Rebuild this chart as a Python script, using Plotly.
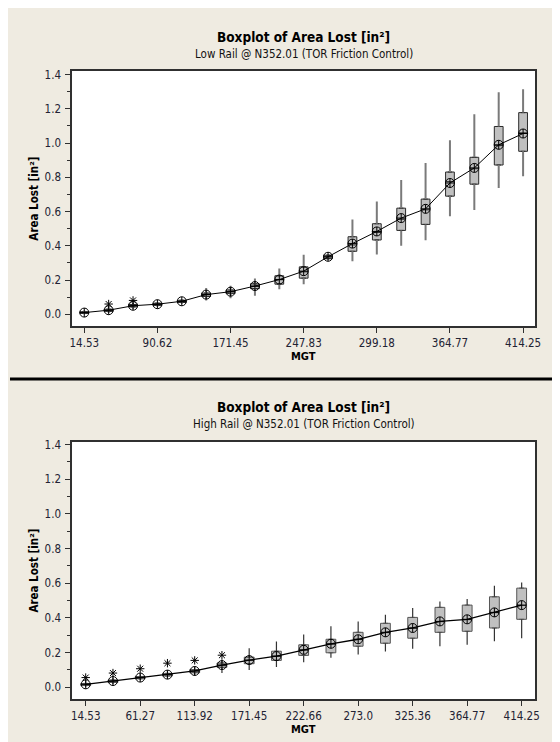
import plotly.graph_objects as go

# ---------------- data ----------------
top_mgt = ["14.53", "38.20", "61.27", "90.62", "113.92", "142.10", "171.45", "197.30",
           "222.66", "247.83", "273.0", "285.90", "299.18", "325.36", "345.10", "364.77",
           "381.20", "397.60", "414.25"]
top_ticks = ["14.53", "90.62", "171.45", "247.83", "299.18", "364.77", "414.25"]
top_q1 = [0.005, 0.017, 0.043, 0.052, 0.069, 0.104, 0.121, 0.150, 0.176, 0.211, 0.325,
          0.368, 0.434, 0.490, 0.525, 0.690, 0.760, 0.872, 0.952]
top_median = [0.010, 0.023, 0.050, 0.058, 0.075, 0.114, 0.131, 0.163, 0.202, 0.248, 0.335,
              0.405, 0.478, 0.555, 0.610, 0.775, 0.850, 0.985, 1.060]
top_q3 = [0.015, 0.030, 0.057, 0.065, 0.082, 0.124, 0.142, 0.178, 0.225, 0.277, 0.345,
          0.453, 0.529, 0.620, 0.673, 0.831, 0.917, 1.097, 1.178]
top_low = [0.000, 0.008, 0.033, 0.044, 0.062, 0.080, 0.093, 0.109, 0.147, 0.176, 0.318,
           0.310, 0.350, 0.400, 0.432, 0.572, 0.609, 0.737, 0.806]
top_high = [0.022, 0.040, 0.066, 0.072, 0.090, 0.153, 0.167, 0.209, 0.267, 0.348, 0.352,
            0.554, 0.659, 0.785, 0.884, 1.017, 1.169, 1.297, 1.314]
top_mean = [0.010, 0.024, 0.050, 0.059, 0.076, 0.115, 0.132, 0.165, 0.203, 0.252, 0.336,
            0.413, 0.484, 0.562, 0.616, 0.767, 0.855, 0.990, 1.056]
top_out_x = ["38.20", "61.27"]
top_out_y = [0.060, 0.081]

bot_mgt = ["14.53", "38.20", "61.27", "90.62", "113.92", "142.10", "171.45", "197.30",
           "222.66", "247.83", "273.0", "299.18", "325.36", "345.10", "364.77", "390.00",
           "414.25"]
bot_ticks = ["14.53", "61.27", "113.92", "171.45", "222.66", "273.0", "325.36", "364.77", "414.25"]
bot_q1 = [0.010, 0.028, 0.049, 0.065, 0.084, 0.115, 0.136, 0.155, 0.184, 0.199, 0.237,
          0.254, 0.283, 0.317, 0.323, 0.342, 0.392]
bot_median = [0.016, 0.035, 0.055, 0.072, 0.093, 0.127, 0.155, 0.178, 0.214, 0.248, 0.275,
              0.315, 0.340, 0.378, 0.390, 0.430, 0.472]
bot_q3 = [0.022, 0.042, 0.062, 0.080, 0.102, 0.140, 0.174, 0.208, 0.245, 0.277, 0.317,
          0.369, 0.403, 0.461, 0.474, 0.522, 0.572]
bot_low = [0.003, 0.018, 0.040, 0.055, 0.068, 0.082, 0.100, 0.117, 0.145, 0.170, 0.189,
           0.207, 0.222, 0.237, 0.245, 0.266, 0.283]
bot_high = [0.032, 0.055, 0.075, 0.093, 0.118, 0.160, 0.225, 0.264, 0.304, 0.352, 0.379,
            0.419, 0.457, 0.495, 0.509, 0.585, 0.604]
bot_mean = [0.017, 0.036, 0.056, 0.073, 0.094, 0.128, 0.157, 0.180, 0.216, 0.251, 0.277,
            0.317, 0.342, 0.380, 0.392, 0.432, 0.474]
bot_out_x = ["14.53", "38.20", "61.27", "90.62", "113.92", "142.10"]
bot_out_y = [0.056, 0.082, 0.107, 0.139, 0.155, 0.185]

title_main = "Boxplot of Area Lost [in²]"
sub_top = "Low Rail @ N352.01 (TOR Friction Control)"
sub_bot = "High Rail @ N352.01 (TOR Friction Control)"
ytitle = "Area Lost [in²]"
xtitle = "MGT"

# ---------------- styling ----------------
# the page body keeps its default 8px margin (white strip), so the figure is 8px smaller
OFF = 8
W, H = 560 - OFF, 742 - OFF
FONT = "DejaVu Sans Condensed, DejaVu Sans, sans-serif"
BEIGE = "#EFEBE1"
BOXFILL = "#C0C0C0"


def px_x(p):
    return (p - OFF) / W


def px_y(p):
    return 1 - (p - OFF) / H


fig = go.Figure()


def add_panel(xa, ya, cats, q1, med, q3, lo, hi, mean, ox, oy, wcol, wwid, bcol, lwid):
    xs = "x" if xa == 1 else "x%d" % xa
    ys = "y" if ya == 1 else "y%d" % ya
    up = [h - q for h, q in zip(hi, q3)]
    dn = [q - l for q, l in zip(q1, lo)]
    fig.add_trace(go.Box(
        x=cats, q1=q1, median=med, q3=q3, lowerfence=q1, upperfence=q3,
        width=0.36, fillcolor=BOXFILL, line=dict(color=bcol, width=1),
        boxpoints=False, xaxis=xs, yaxis=ys, showlegend=False, hoverinfo="skip"))
    fig.add_trace(go.Scatter(
        x=cats, y=q3, mode="markers", marker=dict(size=1, color="rgba(0,0,0,0)"),
        error_y=dict(type="data", symmetric=False, array=up, arrayminus=[0] * len(up),
                     width=0, thickness=wwid, color=wcol),
        xaxis=xs, yaxis=ys, showlegend=False, hoverinfo="skip"))
    fig.add_trace(go.Scatter(
        x=cats, y=q1, mode="markers", marker=dict(size=1, color="rgba(0,0,0,0)"),
        error_y=dict(type="data", symmetric=False, array=[0] * len(dn), arrayminus=dn,
                     width=0, thickness=wwid, color=wcol),
        xaxis=xs, yaxis=ys, showlegend=False, hoverinfo="skip"))
    fig.add_trace(go.Scatter(
        x=cats, y=mean, mode="lines+markers",
        line=dict(color="black", width=lwid),
        marker=dict(symbol="circle-cross-open", size=9, color="black", line=dict(width=1)),
        xaxis=xs, yaxis=ys, showlegend=False))
    fig.add_trace(go.Scatter(
        x=ox, y=oy, mode="markers",
        marker=dict(symbol="asterisk-open", size=7, color="black", line=dict(width=1, color="black")),
        xaxis=xs, yaxis=ys, showlegend=False))


add_panel(1, 1, top_mgt, top_q1, top_median, top_q3, top_low, top_high, top_mean,
          top_out_x, top_out_y, "#7a7a7a", 2, "#2a2a2a", 1)
add_panel(2, 2, bot_mgt, bot_q1, bot_median, bot_q3, bot_low, bot_high, bot_mean,
          bot_out_x, bot_out_y, "#333333", 1.2, "#555555", 1.3)

xdom = [px_x(71), px_x(541)]
axis_common = dict(showline=True, mirror=True, linecolor="#303030", linewidth=1.5,
                   ticks="outside", ticklen=5, tickcolor="#303030", tickwidth=1,
                   showgrid=False, zeroline=False,
                   tickfont=dict(family=FONT, size=11.5, color="#222233"))

yaxis_common = dict(axis_common, tickvals=[0, 0.2, 0.4, 0.6, 0.8, 1.0, 1.2, 1.4],
                    tickformat=".1f", ticklabelstandoff=2,
                    minor=dict(dtick=0.1, ticks="outside", ticklen=3, tickcolor="#303030"))

fig.update_layout(
    width=W, height=H,
    margin=dict(l=0, r=0, t=0, b=0),
    paper_bgcolor=BEIGE, plot_bgcolor="white",
    boxmode="overlay",
    xaxis=dict(axis_common, domain=xdom, anchor="y", type="category",
               categoryorder="array", categoryarray=top_mgt, range=[-0.5, 18.5],
               tickvals=top_ticks, ticktext=top_ticks, ticklabelstandoff=0),
    yaxis=dict(yaxis_common, domain=[px_y(324), px_y(67)], anchor="x", range=[-0.07, 1.423]),
    xaxis2=dict(axis_common, domain=xdom, anchor="y2", type="category",
                categoryorder="array", categoryarray=bot_mgt, range=[-0.5, 16.5],
                tickvals=bot_ticks, ticktext=bot_ticks, ticklabelstandoff=0),
    yaxis2=dict(yaxis_common, domain=[px_y(699), px_y(440)], anchor="x2", range=[-0.069, 1.417]),
    shapes=[
        dict(type="line", xref="paper", yref="paper", x0=0, x1=1, y0=px_y(377), y1=px_y(377),
             line=dict(color="black", width=3)),
    ],
)

cx = px_x(306)
ann = []
for t_y, s_y, sub, xt_y, yt_y in [(33, 50, sub_top, 354, 196), (405, 422, sub_bot, 729, 570)]:
    ann.append(dict(text="<b>" + title_main + "</b>", x=cx, y=px_y(t_y), xref="paper", yref="paper",
                    showarrow=False, xanchor="center", yanchor="middle",
                    font=dict(family=FONT, size=13.5, color="black")))
    ann.append(dict(text=sub, x=cx, y=px_y(s_y), xref="paper", yref="paper",
                    showarrow=False, xanchor="center", yanchor="middle",
                    font=dict(family=FONT, size=11.5, color="#111111")))
    ann.append(dict(text="<b>" + xtitle + "</b>", x=cx, y=px_y(xt_y), xref="paper", yref="paper",
                    showarrow=False, xanchor="center", yanchor="middle",
                    font=dict(family=FONT, size=11, color="black")))
    ann.append(dict(text="<b>" + ytitle + "</b>", x=px_x(32), y=px_y(yt_y), xref="paper", yref="paper",
                    showarrow=False, xanchor="center", yanchor="middle", textangle=-90,
                    font=dict(family=FONT, size=11.5, color="black")))
fig.update_layout(annotations=ann)

fig.write_html("out.html")
